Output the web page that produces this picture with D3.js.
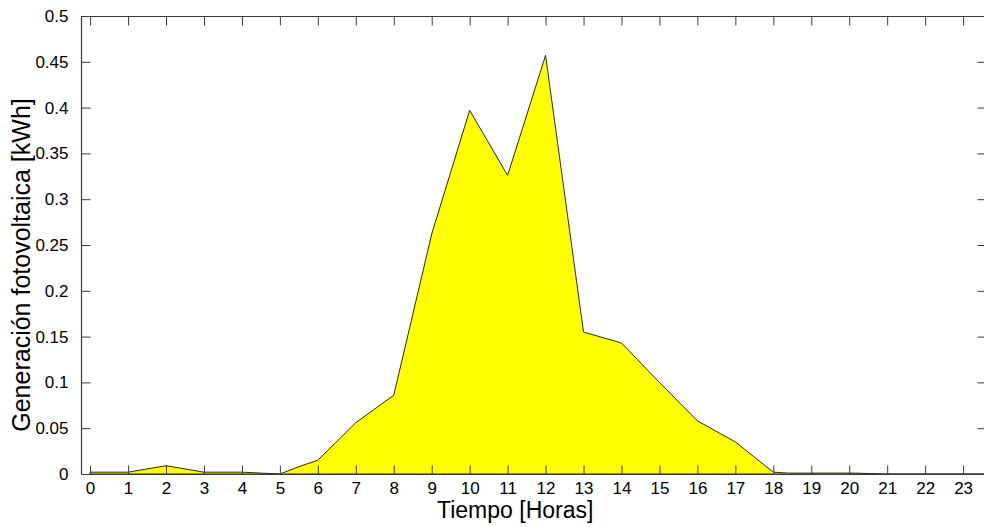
<!DOCTYPE html>
<html>
<head>
<meta charset="utf-8">
<script src="https://cdn.jsdelivr.net/npm/d3@7"></script>
<style>
  body { margin: 0; background: #fff; }
  svg { display: block; }
  text { font-family: "Liberation Sans", Arial, sans-serif; fill: #000; }
</style>
</head>
<body>
<div class="container"></div>
<script>
// hourly PV generation (x = hour, y = kWh)
const hours = [0, 1, 2, 3, 4, 5, 5.5, 6, 7, 8, 9, 10, 11, 12, 13, 14, 15, 16, 17, 18, 18.4, 20.1, 21, 22, 23, 24];
const energy = [0.002, 0.002, 0.009, 0.002, 0.002, 0.0, 0.008, 0.015, 0.056, 0.086, 0.262, 0.397, 0.326, 0.457,
  0.155, 0.143, 0.100, 0.058, 0.035, 0.002, 0.001, 0.001, 0, 0, 0, 0];
const xTicks = d3.range(0, 24);
const yTicks = [0, 0.05, 0.1, 0.15, 0.2, 0.25, 0.3, 0.35, 0.4, 0.45, 0.5];
const xLabel = 'Tiempo [Horas]';
const yLabel = 'Generación fotovoltaica [kWh]';

(function () {
  const width = 984, height = 527;
  const box = { left: 81, right: 987, top: 16, bottom: 474 };
  const tickLen = 9;
  const axisColor = '#3c3c3c';

  const svg = d3.select('.container').append('svg')
    .attr('width', width)
    .attr('height', height);

  const x = d3.scaleLinear().domain([-0.24, 23.63]).range([box.left, box.right]);
  const y = d3.scaleLinear().domain([0, 0.5]).range([box.bottom, box.top]);

  const data = hours.map((h, i) => ({ h: h, v: energy[i] }));

  // filled area with dark edge, like matlab area()
  const area = d3.area()
    .x(d => x(d.h))
    .y0(y(0))
    .y1(d => y(d.v));

  svg.append('path')
    .datum(data)
    .attr('d', area)
    .attr('fill', '#ffff00')
    .attr('stroke', '#2a2a2a')
    .attr('stroke-width', 1)
    .attr('stroke-linejoin', 'miter');

  // axes box, ticks pointing inward on all four sides
  const bottomAxis = d3.axisBottom(x).tickValues(xTicks).tickSize(-tickLen).tickPadding(tickLen + 3).tickFormat(d3.format('d'));
  const topAxis = d3.axisTop(x).tickValues(xTicks).tickSize(-tickLen).tickFormat('');
  const leftAxis = d3.axisLeft(y).tickValues(yTicks).tickSize(-tickLen).tickPadding(tickLen + 4).tickFormat(d => d === 0 ? '0' : String(+d.toFixed(2)));
  const rightAxis = d3.axisRight(y).tickValues(yTicks).tickSize(-tickLen).tickFormat('');

  const gB = svg.append('g').attr('transform', `translate(0,${box.bottom + 0.5})`).call(bottomAxis);
  const gT = svg.append('g').attr('transform', `translate(0,${box.top + 0.5})`).call(topAxis);
  const gL = svg.append('g').attr('transform', `translate(${box.left + 0.5},0)`).call(leftAxis);
  const gR = svg.append('g').attr('transform', `translate(${box.right - 0.5},0)`).call(rightAxis);

  [gB, gT, gL, gR].forEach(g => {
    g.selectAll('.domain').attr('stroke', axisColor).attr('stroke-width', 1.2);
    g.selectAll('.tick line').attr('stroke', axisColor);
    g.selectAll('text').attr('font-size', 17).attr('font-family', '"Liberation Sans", Arial, sans-serif').attr('fill', '#000');
  });
  gB.selectAll('.domain').attr('d', `M${box.left},0H${box.right}`);
  gT.selectAll('.domain').attr('d', `M${box.left},0H${box.right}`);
  gL.selectAll('.domain').attr('d', `M0,${box.top}V${box.bottom}`);
  gR.selectAll('.domain').attr('d', `M0,${box.top}V${box.bottom}`);
  gB.selectAll('text').attr('dy', '0.45em');

  // axis titles
  svg.append('text')
    .attr('x', x(11.2))
    .attr('y', 518)
    .attr('text-anchor', 'middle')
    .attr('font-size', 23)
    .text(xLabel);

  svg.append('text')
    .attr('transform', `translate(30,265) rotate(-90)`)
    .attr('text-anchor', 'middle')
    .attr('font-size', 25)
    .text(yLabel);
})();
</script>
</body>
</html>
